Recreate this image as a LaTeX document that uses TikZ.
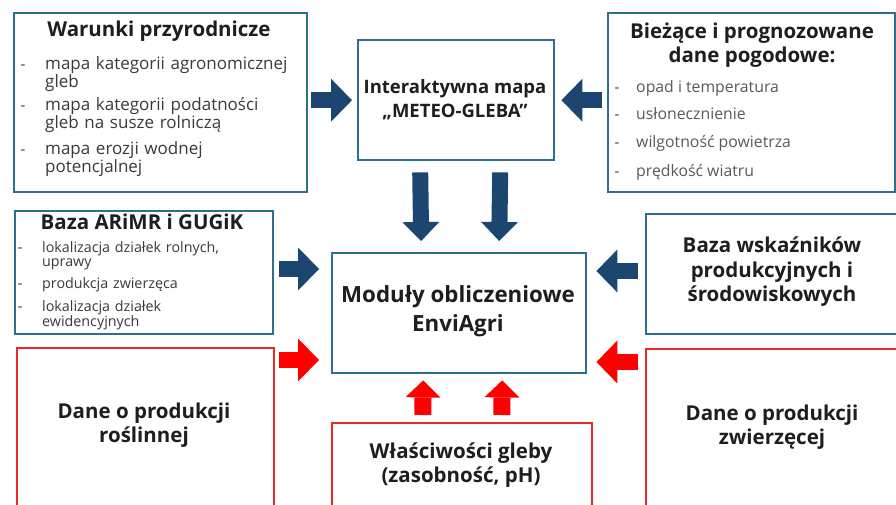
\documentclass[tikz,border=0pt]{standalone}
\usepackage{fontspec}
\setmainfont{Open Sans}
\usetikzlibrary{arrows.meta,calc}
\definecolor{boxblue}{HTML}{2E6F8E}
\definecolor{navy}{HTML}{1C4670}
\definecolor{boxred}{HTML}{E42A2A}
\definecolor{arrred}{HTML}{FF0000}
\definecolor{txt}{HTML}{1E1E1E}
\definecolor{gtxt}{HTML}{3A3A3A}
\definecolor{ltxt}{HTML}{5A5A5A}
\begin{document}
\begin{tikzpicture}[x=1pt,y=-1pt,
  bbox/.style={draw=boxblue,line width=2.4pt,fill=white,inner sep=0pt,anchor=north west},
  rbox/.style={draw=boxred,line width=1.6pt,fill=white,inner sep=0pt,anchor=north west},
  ttl/.style={font=\bfseries\fontsize{20.5}{24.5}\selectfont,text=txt,align=center,inner sep=0pt},
  big/.style={font=\bfseries\fontsize{22.3}{29}\selectfont,text=txt,align=center,inner sep=0pt},
  itemA/.style={font=\fontsize{17}{17.5}\selectfont,text=gtxt,align=left,inner sep=0pt,anchor=base west,text width=255pt},
  itemB/.style={font=\fontsize{15.8}{16}\selectfont,text=ltxt,align=left,inner sep=0pt,anchor=base west},
  itemC/.style={font=\fontsize{14.3}{14}\selectfont,text=gtxt,align=left,inner sep=0pt,anchor=base west,text width=225pt},
  dashA/.style={font=\fontsize{15}{17}\selectfont,text=gtxt,inner sep=0pt,anchor=base},
  navyarr/.style={draw=navy,line width=16pt,-{Triangle[length=21pt,width=43pt,line width=0pt]}},
  navydown/.style={draw=navy,line width=16pt,-{Triangle[length=19pt,width=37pt,line width=0pt]}},
  redarr/.style={draw=arrred,line width=16pt,-{Triangle[length=21pt,width=43pt,line width=0pt]}},
  redup/.style={draw=arrred,line width=17pt,-{Triangle[length=17pt,width=35pt,line width=0pt]}}
]
\useasboundingbox (0,0) rectangle (896,505);
\clip (0,0) rectangle (896,505);
\fill[white] (0,0) rectangle (896,505);

% boxes
\node[bbox,minimum width=293pt,minimum height=179pt] (warunki) at (13,12) {};
\node[bbox,minimum width=287pt,minimum height=179pt] (biezace) at (607,12) {};
\node[bbox,minimum width=196pt,minimum height=120pt] (interakt) at (357,39) {};
\node[bbox,minimum width=258pt,minimum height=123pt] (arimr) at (14,210) {};
\node[bbox,minimum width=254pt,minimum height=120pt] (moduly) at (331,252) {};
\node[bbox,minimum width=260pt,minimum height=120pt] (wskaz) at (645,213) {};
\node[rbox,minimum width=257pt,minimum height=165pt] (roslin) at (16,347) {};
\node[rbox,minimum width=260pt,minimum height=95pt] (wlasc) at (331,422) {};
\node[rbox,minimum width=260pt,minimum height=165pt] (zwierz) at (645,348) {};

% texts: Warunki
\node[ttl] (t1) at (159,31) {Warunki przyrodnicze};
\node[dashA] (d11) at (23,70) {-};
\node[itemA] (i11) at (45,70) {mapa kategorii agronomicznej\\gleb};
\node[dashA] (d12) at (23,111) {-};
\node[itemA] (i12) at (45,111) {mapa kategorii podatności\\gleb na susze rolniczą};
\node[dashA] (d13) at (23,155) {-};
\node[itemA] (i13) at (45,155) {mapa erozji wodnej\\potencjalnej};

% Biezace
\node[ttl] (t2) at (752,45) {Bieżące i prognozowane\\dane pogodowe:};
\node[dashA] (d21) at (617,93) {-};
\node[itemB] (i21) at (636,93) {opad i temperatura};
\node[dashA] (d22) at (617,120) {-};
\node[itemB] (i22) at (636,120) {usłonecznienie};
\node[dashA] (d23) at (617,148) {-};
\node[itemB] (i23) at (636,148) {wilgotność powietrza};
\node[dashA] (d24) at (617,176) {-};
\node[itemB] (i24) at (636,176) {prędkość wiatru};

% Interaktywna
\node[ttl,font=\bfseries\fontsize{18.5}{24}\selectfont] (t3) at (455,100) {Interaktywna mapa\\„METEO-GLEBA”};

% ARiMR
\node[ttl] (t4) at (142,222) {Baza ARiMR i GUGiK};
\node[dashA] (d41) at (20,252) {-};
\node[itemC] (i41) at (42,252) {lokalizacja działek rolnych,\\uprawy};
\node[dashA] (d42) at (20,288) {-};
\node[itemC] (i42) at (42,288) {produkcja zwierzęca};
\node[dashA] (d43) at (20,311) {-};
\node[itemC] (i43) at (42,311) {lokalizacja działek\\ewidencyjnych};

% Moduly
\node[big] (t5) at (458,311.5) {Moduły obliczeniowe\\EnviAgri};

% Wskazniki
\node[ttl] (t6) at (772,272) {Baza wskaźników\\produkcyjnych i\\środowiskowych};

% Roslin
\node[ttl] (t7) at (144,425) {Dane o produkcji\\roślinnej};
% Wlasc
\node[ttl] (t8) at (461,465) {Właściwości gleby\\(zasobność, pH)};
% Zwierz
\node[ttl] (t9) at (772,427) {Dane o produkcji\\zwierzęcej};

% arrows
\draw[navyarr] ($(warunki.east |- interakt.center)+(3,0)$) -- ($(interakt.west)+(-5,0)$);
\draw[navyarr] ($(biezace.west |- interakt.center)+(-5,0)$) -- ($(interakt.east)+(6,0)$);
\draw[navydown] ($(interakt.south)+(-36,11)$) -- ($(moduly.north)+(-38,-11)$);
\draw[navydown] ($(interakt.south)+(44,11)$) -- ($(moduly.north)+(40,-11)$);
\draw[navyarr] ($(arimr.east |- 0,269)+(5,0)$) -- ($(moduly.west |- 0,269)+(-12,0)$);
\draw[navyarr] ($(wskaz.west |- 0,271)+(-7,0)$) -- ($(moduly.east |- 0,271)+(9,0)$);
\draw[redarr] ($(roslin.east |- 0,360)+(4,0)$) -- ($(moduly.west |- 0,360)+(-12,0)$);
\draw[redarr] ($(zwierz.west |- 0,362)+(-7,0)$) -- ($(moduly.east |- 0,362)+(9,0)$);
\draw[redup] ($(wlasc.north)+(-39,-7)$) -- ($(moduly.south)+(-36,6)$);
\draw[redup] ($(wlasc.north)+(40,-7)$) -- ($(moduly.south)+(43,6)$);
\end{tikzpicture}
\end{document}
